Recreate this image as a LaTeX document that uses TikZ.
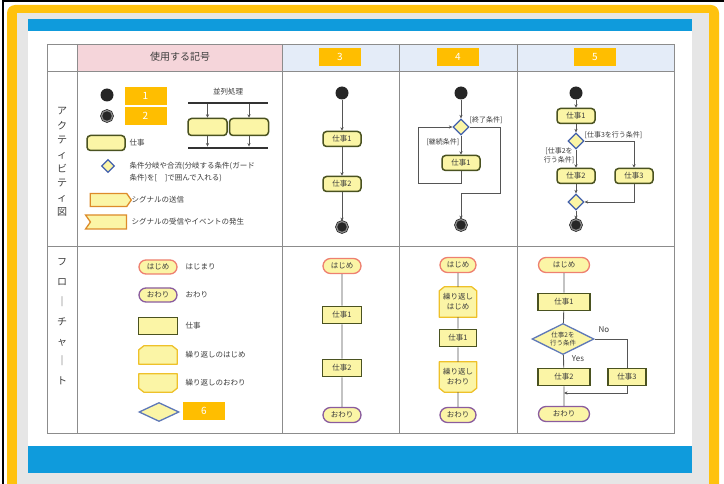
\documentclass[tikz,border=0pt]{standalone}
\usepackage{fontspec}
\setmainfont{Noto Sans CJK JP}
\usetikzlibrary{arrows.meta,shapes.geometric,shapes.misc,shapes.symbols}
\definecolor{frameO}{HTML}{FFC20E}
\definecolor{oboxF}{HTML}{FFBE00}
\definecolor{bgGray}{HTML}{E6E6E6}
\definecolor{barBlue}{HTML}{0F9BDC}
\definecolor{hdPink}{HTML}{F5D5DA}
\definecolor{hdBlue}{HTML}{E4ECF8}
\definecolor{gridG}{HTML}{8C8C8C}
\definecolor{txt}{HTML}{3C3C3C}
\definecolor{paleY}{HTML}{FBF5A6}
\definecolor{actG}{HTML}{4A5220}
\definecolor{dBlue}{HTML}{4260AC}
\definecolor{sigO}{HTML}{DD8B2A}
\definecolor{startR}{HTML}{EE8070}
\definecolor{endP}{HTML}{8A5C9E}
\definecolor{loopY}{HTML}{EEC12A}
\definecolor{lineG}{HTML}{555555}
\tikzset{
  lab/.style={font=\fontsize{7.5}{12}\selectfont, inner sep=0.5pt, text=txt},
  blab/.style={font=\fontsize{7}{9}\selectfont, inner sep=0.5pt, text=txt},
  obox/.style={fill=oboxF, text=white, minimum width=42pt, minimum height=18pt, inner sep=0pt, font=\fontsize{10}{12}\selectfont},
  startdot/.style={circle, fill=black!85, minimum size=13pt, inner sep=0pt},
  enddot/.style={circle, fill=black!85, draw=black!85, double=black!45, double distance=1.2pt, line width=0.7pt, minimum size=11pt, inner sep=0pt},
  act/.style={rectangle, rounded corners=3.5pt, draw=actG, line width=1.5pt, fill=paleY, minimum width=38pt, minimum height=15pt, inner sep=0pt, font=\fontsize{7.5}{9}\selectfont, text=txt},
  adiam/.style={diamond, draw=dBlue, line width=1.3pt, fill=paleY, minimum width=16pt, minimum height=16pt, inner sep=0pt},
  pbar/.style={rectangle, fill=black!80, minimum width=80pt, minimum height=2.5pt, inner sep=0pt},
  sigsend/.style={signal, signal to=east, signal pointer angle=110, draw=sigO, line width=1.3pt, fill=paleY, minimum width=41pt, minimum height=13pt, inner sep=0pt},
  sigrecv/.style={signal, signal to=nowhere, signal from=west, signal pointer angle=110, draw=sigO, line width=1.3pt, fill=paleY, minimum width=41pt, minimum height=14pt, inner sep=0pt},
  fstart/.style={rounded rectangle, draw=startR, line width=1.3pt, fill=paleY, minimum width=39pt, minimum height=15pt, inner sep=0.5pt, font=\fontsize{7.5}{9}\selectfont, text=txt},
  fend/.style={fstart, draw=endP},
  fwork/.style={rectangle, draw=actG, line width=1.6pt, fill=paleY, minimum width=39pt, minimum height=17pt, inner sep=0pt, font=\fontsize{7.5}{9}\selectfont, text=txt},
  floop/.style={rectangle, minimum width=38pt, minimum height=18pt, inner sep=0pt, font=\fontsize{7.5}{10}\selectfont, text=txt, align=center},
  loopline/.style={draw=loopY, line width=1.3pt, fill=paleY, line join=round},
  fdiam/.style={diamond, aspect=2, draw=dBlue!85, line width=1.3pt, fill=paleY, minimum width=40pt, minimum height=19pt, inner sep=0pt, font=\fontsize{6.5}{8}\selectfont, text=txt, align=center},
  arr/.style={draw=lineG, line width=0.8pt, -{Stealth[length=3.5pt,width=3.2pt]}},
  ln/.style={draw=lineG, line width=0.9pt},
  vlab/.style={align=center, inner sep=0pt, text=txt}
}
% chamfered loop shapes drawn round a named node
\newcommand\lpTop[1]{%
  \path[loopline] ([yshift=-4pt]#1.north west) -- ([xshift=5pt]#1.north west) -- ([xshift=-5pt]#1.north east)
    -- ([yshift=-4pt]#1.north east) -- (#1.south east) -- (#1.south west) -- cycle;}
\newcommand\lpBot[1]{%
  \path[loopline] (#1.north west) -- (#1.north east) -- ([yshift=4pt]#1.south east)
    -- ([xshift=-5pt]#1.south east) -- ([xshift=5pt]#1.south west) -- ([yshift=4pt]#1.south west) -- cycle;}
\begin{document}
\begin{tikzpicture}[x=1pt,y=-1pt]
\useasboundingbox (0,0) rectangle (724,484);
\fill[white] (0,0) rectangle (724,484);
% frame
\fill[frameO, rounded corners=8pt] (7,5) rectangle (719,500);
\fill[bgGray] (17,13) rectangle (709,484);
\fill[white] (28,19) rectangle (692,473);
\fill[barBlue] (28,19) rectangle (692,31);
\fill[barBlue] (28,446) rectangle (692,473);
\draw[black, line width=2pt] (3,484) -- (3,1.5) -- (724,1.5);
% table
\fill[hdPink] (77,44) rectangle (282,71);
\fill[hdBlue] (282,44) rectangle (674,71);
\draw[gridG, line width=0.6pt] (47,44) rectangle (674,433);
\draw[gridG, line width=0.6pt] (77,44) -- (77,433) (282,44) -- (282,433) (399,44) -- (399,433) (517,44) -- (517,433)
  (47,71) -- (674,71) (47,246) -- (674,246);
% headers
\node[font=\fontsize{10}{12}\selectfont, text=txt] (hdr) at (180,57) {使用する記号};
\node[obox] (h3) at (340,57) {3};
\node[obox] (h4) at (458,57) {4};
\node[obox] (h5) at (595,57) {5};
% vertical labels
\node[vlab, font=\fontsize{10}{14.4}\selectfont] (va) at (62,162) {ア\\ク\\テ\\ィ\\ビ\\テ\\ィ\\図};
\node[vlab, font=\fontsize{10}{19.8}\selectfont] (vf) at (62,322) {フ\\ロ\\｜\\チ\\ャ\\｜\\ト};
% ---- symbol column: activity
\node[startdot] (ks) at (107,95) {};
\node[obox] (b1) at (145.5,96) {1};
\node[enddot] (ke) at (107,116) {};
\node[obox] (b2) at (145.5,116) {2};
\node[lab] (lpar) at (228,92) {並列処理};
\node[pbar] (pb1) at (228,103) {};
\node[act, minimum width=39pt, minimum height=17pt] (pa) at (207.5,127) {};
\node[act, minimum width=39pt, minimum height=17pt] (pb) at (249,127) {};
\node[pbar] (pb2) at (228,148) {};
\draw[arr] (pa.north |- pb1.south) -- (pa);
\draw[arr] (pb.north |- pb1.south) -- (pb);
\draw[arr] (pa) -- (pa.south |- pb2.north);
\draw[arr] (pb) -- (pb.south |- pb2.north);
\node[act] (kw) at (106,143) {};
\node[lab, anchor=west] (kwl) at (129,143) {仕事};
\node[adiam, minimum width=13pt, minimum height=13pt] (kd) at (108,166) {};
\node[lab, anchor=west, align=left] (kdl) at (129,172) {条件分岐や合流(分岐する条件(ガード\\条件)を[　]で囲んで入れる)};
\node[sigsend] (kss) at (108.5,200) {};
\node[lab, anchor=west] (kssl) at (131,200) {シグナルの送信};
\node[sigrecv] (ksr) at (108.5,222) {};
\node[lab, anchor=west] (ksrl) at (131,222) {シグナルの受信やイベントの発生};
% ---- column 3 activity
\node[startdot] (a3s) at (342,93) {};
\node[act] (a3w1) at (342,139) {仕事1};
\node[act] (a3w2) at (342,184) {仕事2};
\node[enddot] (a3e) at (342,227) {};
\draw[arr] (a3s) -- (a3w1);
\draw[arr] (a3w1) -- (a3w2);
\draw[arr] (a3w2) -- (a3e);
% ---- column 4 activity
\node[startdot] (a4s) at (461,93) {};
\node[adiam] (a4d) at (461,127) {};
\node[act] (a4w) at (461,163) {仕事1};
\node[enddot] (a4e) at (461,225) {};
\coordinate (a4l) at (418,183);
\coordinate (a4r) at (500,193);
\draw[arr] (a4s) -- (a4d);
\draw[arr] (a4d) -- (a4w);
\draw[arr] (a4w.south) |- (a4l) |- (a4d.west);
\draw[arr] (a4d.east) -| (a4r) -| (a4e);
\node[blab, anchor=west] (a4lt) at (469,120) {[終了条件]};
\node[blab, anchor=east] (a4lc) at (460,142) {[継続条件]};
% ---- column 5 activity
\node[startdot] (a5s) at (576,93) {};
\node[act] (a5w1) at (576,116) {仕事1};
\node[adiam] (a5d) at (576,141) {};
\node[act] (a5w2) at (576,176) {仕事2};
\node[act] (a5w3) at (634,176) {仕事3};
\node[adiam] (a5m) at (576,202) {};
\node[enddot] (a5e) at (576,225) {};
\draw[arr] (a5s) -- (a5w1);
\draw[arr] (a5w1) -- (a5d);
\draw[arr] (a5d) -- (a5w2);
\draw[arr] (a5w2) -- (a5m);
\draw[arr] (a5m) -- (a5e);
\draw[arr] (a5d.east) -| (a5w3);
\draw[arr] (a5w3) |- (a5m.east);
\node[blab, anchor=west] (a5l3) at (584,135) {[仕事3を行う条件]};
\node[blab, anchor=east, align=center] (a5l2) at (575,156) {[仕事2を\\行う条件]};
% ---- symbol column: flowchart
\node[fstart, minimum height=14pt] (fs) at (158,267) {はじめ};
\node[lab, anchor=west] (fsl) at (185,267) {はじまり};
\node[fend, minimum height=14pt] (fe) at (158,295) {おわり};
\node[lab, anchor=west] (fel) at (185,295) {おわり};
\node[fwork] (fw) at (158,326) {};
\node[lab, anchor=west] (fwl) at (185,326) {仕事};
\node[floop] (fls) at (158,355) {};
\lpTop{fls}
\node[lab, anchor=west] (flsl) at (185,355) {繰り返しのはじめ};
\node[floop] (fle) at (158,383) {};
\lpBot{fle}
\node[lab, anchor=west] (flel) at (185,383) {繰り返しのおわり};
\node[fdiam] (fd) at (159,412) {};
\node[obox] (b6) at (204,411) {6};
% ---- column 3 flowchart
\node[fstart] (f3s) at (342,266) {はじめ};
\node[fwork] (f3w1) at (342,315) {仕事1};
\node[fwork] (f3w2) at (342,368) {仕事2};
\node[fend] (f3e) at (342,415) {おわり};
\draw[ln] (f3s) -- (f3w1) -- (f3w2) -- (f3e);
% ---- column 4 flowchart
\node[floop, minimum width=37pt, minimum height=30pt] (f4ls) at (458,302) {};
\lpTop{f4ls}
\node[floop, minimum width=37pt, minimum height=30pt] (f4le) at (458,377) {};
\lpBot{f4le}
\node[floop, minimum width=37pt, minimum height=30pt] (f4lst) at (458,302) {繰り返し\\はじめ};
\node[floop, minimum width=37pt, minimum height=30pt] (f4let) at (458,377) {繰り返し\\おわり};
\node[fstart, minimum width=37pt] (f4s) at (458,265) {はじめ};
\node[fwork, minimum width=37pt] (f4w) at (458,338) {仕事1};
\node[fend, minimum width=37pt] (f4e) at (458,415) {おわり};
\draw[ln] (f4s) -- (f4ls) -- (f4w) -- (f4le) -- (f4e);
% ---- column 5 flowchart
\node[fstart, minimum width=52pt] (f5s) at (564,265) {はじめ};
\node[fwork, minimum width=52pt] (f5w1) at (564,302) {仕事1};
\node[fdiam, minimum width=62pt, minimum height=31pt] (f5d) at (563,339) {仕事2を\\行う条件};
\node[fwork, minimum width=52pt] (f5w2) at (564,377) {仕事2};
\node[fwork, minimum width=38pt] (f5w3) at (627,377) {仕事3};
\node[fend, minimum width=52pt] (f5e) at (564,414) {おわり};
\coordinate (f5j) at (564,393);
\draw[ln] (f5s) -- (f5w1) -- (f5d) -- (f5w2) -- (f5e);
\draw[ln] (f5d.east) -| (f5w3);
\draw[arr] (f5w3.south) |- (f5j);
\node[lab, font=\fontsize{8}{9}\selectfont] (no) at (604,330) {No};
\node[lab, font=\fontsize{8}{9}\selectfont] (yes) at (578,359) {Yes};
\end{tikzpicture}
\end{document}
